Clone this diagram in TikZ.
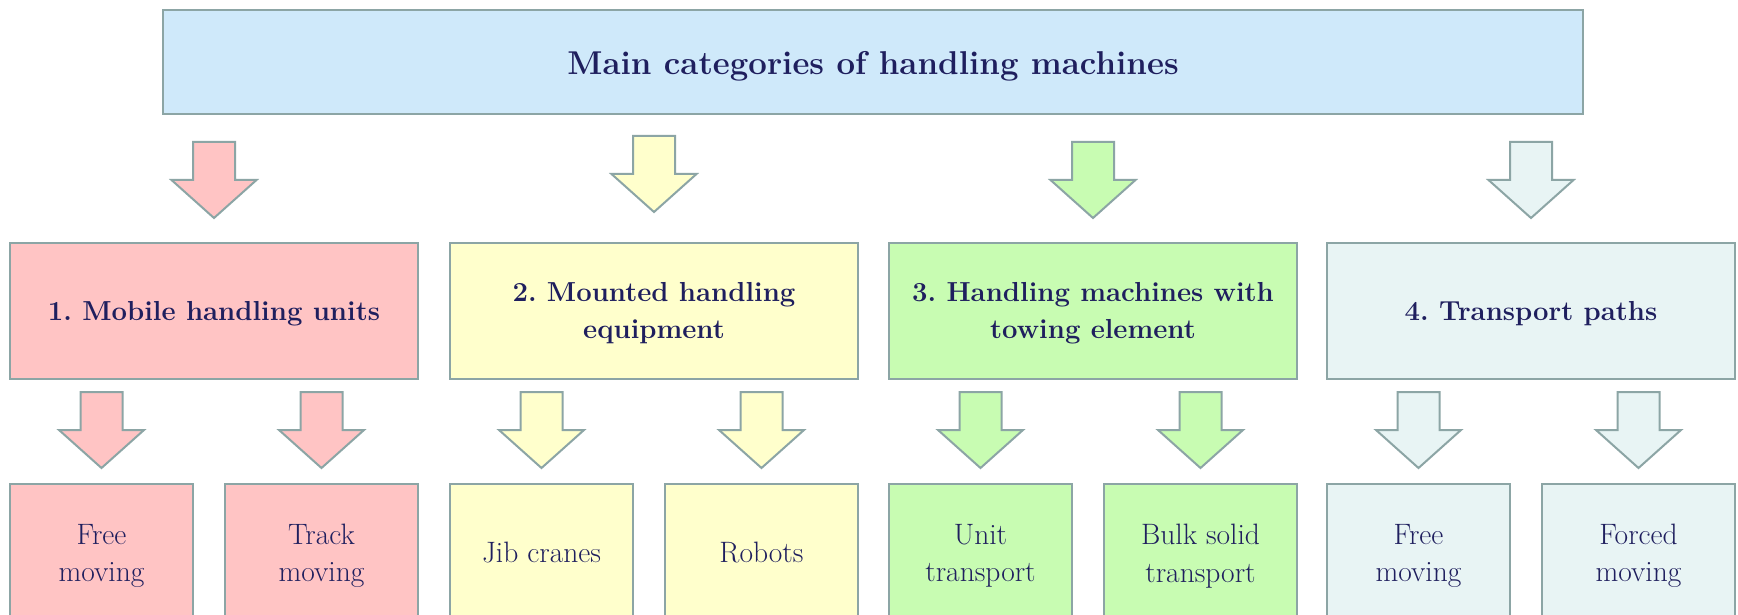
\documentclass[tikz,border=0pt]{standalone}
\usepackage{fontspec}
\usetikzlibrary{calc}
\definecolor{edge}{HTML}{8CA5A5}
\definecolor{txt}{HTML}{1F1F5E}
\definecolor{cblue}{HTML}{CFE9FA}
\definecolor{cred}{HTML}{FFC4C4}
\definecolor{cyel}{HTML}{FFFFCC}
\definecolor{cgrn}{HTML}{C8FCB2}
\definecolor{cteal}{HTML}{E8F4F4}
\frenchspacing
\newcommand{\blockarr}[3]{%
  \draw[blk, fill=#1] ($(#2.north)+(0,-#3)$) -- ++(-42.5,-38) -- ++(21.5,0) -- ++(0,-38) -- ++(42,0) -- ++(0,38) -- ++(21.5,0) -- cycle;}
\begin{document}
\begin{tikzpicture}[x=1pt,y=-1pt,
  boxbase/.style={draw=edge, line width=2pt, inner sep=0pt},
  topbox/.style={boxbase, fill=cblue, minimum width=1420pt, minimum height=104pt},
  catbox/.style={boxbase, minimum width=408pt, minimum height=136pt},
  subbox/.style={boxbase, minimum height=150pt},
  lab/.style={inner sep=0pt, text=txt, align=center},
  toplab/.style={lab, font=\fontsize{33}{40}\selectfont\bfseries},
  catlab/.style={lab, font=\fontsize{27.5}{37.5}\selectfont\bfseries},
  sublab/.style={lab, font=\fontsize{29.5}{37.5}\selectfont},
  blk/.style={draw=edge, line width=2pt, line join=miter}]
\useasboundingbox (0,0) rectangle (1738,615);
\clip (0,0) rectangle (1738,615);
\fill[white] (0,0) rectangle (1738,615);

\node[topbox] (top) at (873,62) {};
\node[toplab] (topt) at (873,66.5) {Main categories of handling machines};

\node[catbox, fill=cred] (c1) at (214,311) {};
\node[catbox, fill=cyel] (c2) at (654,311) {};
\node[catbox, fill=cgrn] (c3) at (1093,311) {};
\node[catbox, fill=cteal] (c4) at (1531,311) {};
\node[catlab] (c1t) at (214,313.3) {1. Mobile handling units};
\node[catlab] (c2t) at (654,313.3) {2. Mounted handling\\equipment};
\node[catlab] (c3t) at (1093,313.3) {3. Handling machines with\\towing element};
\node[catlab] (c4t) at (1531,313.3) {4. Transport paths};

\node[subbox, fill=cred, minimum width=183pt] (s1a) at (101.5,559) {};
\node[subbox, fill=cred, minimum width=193pt] (s1b) at (321.5,559) {};
\node[subbox, fill=cyel, minimum width=183pt] (s2a) at (541.5,559) {};
\node[subbox, fill=cyel, minimum width=193pt] (s2b) at (761.5,559) {};
\node[subbox, fill=cgrn, minimum width=183pt] (s3a) at (980.5,559) {};
\node[subbox, fill=cgrn, minimum width=193pt] (s3b) at (1200.5,559) {};
\node[subbox, fill=cteal, minimum width=183pt] (s4a) at (1418.5,559) {};
\node[subbox, fill=cteal, minimum width=193pt] (s4b) at (1638.5,559) {};
\node[sublab] (s1at) at (101.5,556) {Free\\moving};
\node[sublab] (s1bt) at (321.5,556) {Track\\moving};
\node[sublab] (s2at) at (541.5,552.5) {Jib cranes};
\node[sublab] (s2bt) at (761.5,552.5) {Robots};
\node[sublab] (s3at) at (980.5,556) {Unit\\transport};
\node[sublab] (s3bt) at (1200.5,556) {Bulk solid\\transport};
\node[sublab] (s4at) at (1418.5,556) {Free\\moving};
\node[sublab] (s4bt) at (1638.5,556) {Forced\\moving};

\blockarr{cred}{c1}{24}
\blockarr{cyel}{c2}{30}
\blockarr{cgrn}{c3}{24}
\blockarr{cteal}{c4}{24}

\blockarr{cred}{s1a}{15}
\blockarr{cred}{s1b}{15}
\blockarr{cyel}{s2a}{15}
\blockarr{cyel}{s2b}{15}
\blockarr{cgrn}{s3a}{15}
\blockarr{cgrn}{s3b}{15}
\blockarr{cteal}{s4a}{15}
\blockarr{cteal}{s4b}{15}
\end{tikzpicture}
\end{document}
